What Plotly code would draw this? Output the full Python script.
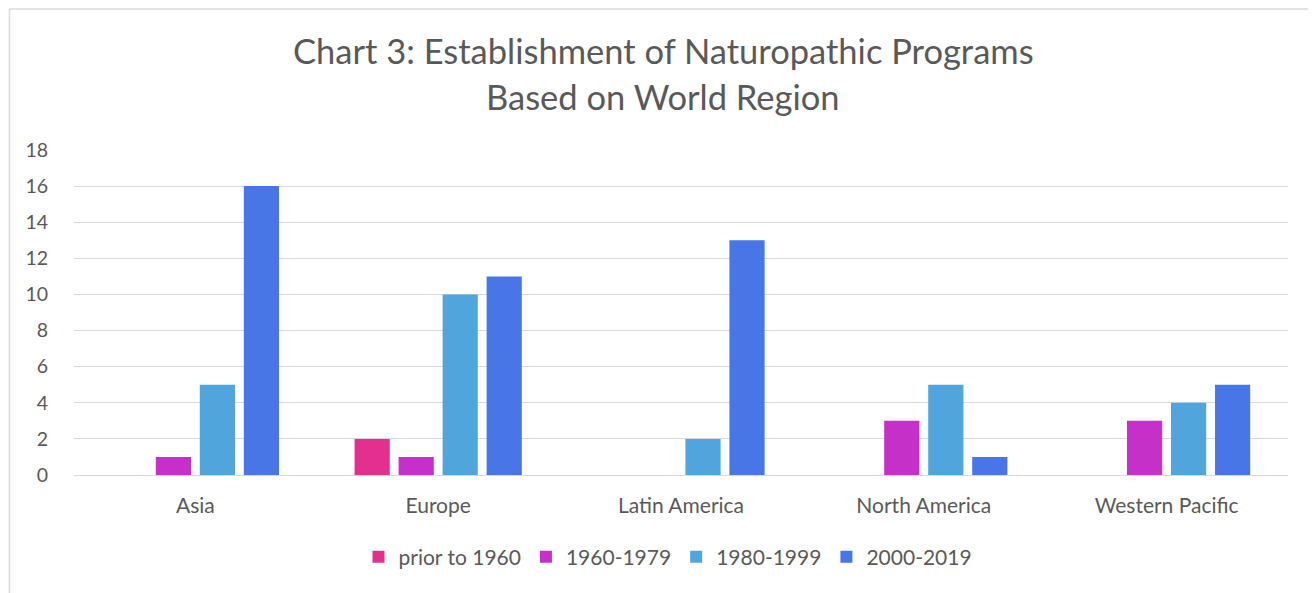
import plotly.graph_objects as go

regions = ["Asia", "Europe", "Latin America", "North America", "Western Pacific"]
series_names = ["prior to 1960", "1960-1979", "1980-1999", "2000-2019"]
prior_1960 = [0, 2, 0, 0, 0]
y1960_1979 = [1, 1, 0, 3, 3]
y1980_1999 = [5, 10, 2, 5, 4]
y2000_2019 = [16, 11, 13, 1, 5]
colors = ["#E3308F", "#C530C8", "#50A6DC", "#4876E6"]
title_lines = ["Chart 3: Establishment of Naturopathic Programs", "Based on World Region"]
y_ticks = list(range(0, 19, 2))

FONT = "Lato"
TXT = "#595959"
GRID = "#D9D9D9"

fig = go.Figure()
for name, vals, col in zip(series_names, [prior_1960, y1960_1979, y1980_1999, y2000_2019], colors):
    fig.add_trace(go.Bar(x=regions, y=vals, name=name, marker=dict(color=col, line=dict(width=0))))

OFF = 8  # page body margin
W, H = 1316 - OFF, 593 - OFF
# target page-pixel geometry of the plot area
PL, PR, PT, PB = 74, 1288, 150, 475
L, T = PL - OFF, PT - OFF
R = W - (PR - OFF)
B = H - (PB - OFF)
pw, ph = W - L - R, H - T - B

def px_x(p):
    return (p - OFF - L) / pw

def px_y(p):
    return (PB - p) / ph

fig.update_layout(
    width=W, height=H,
    margin=dict(l=L, r=R, t=T, b=B, autoexpand=False),
    paper_bgcolor="white", plot_bgcolor="white",
    barmode="group", bargap=0.275, bargroupgap=0.2,
    font=dict(family=FONT, color=TXT, size=19),
    showlegend=True,
    legend=dict(orientation="h", x=px_x(668), xanchor="center", y=px_y(557), yanchor="middle",
                font=dict(size=21, color=TXT, family=FONT), itemclick=False,
                bgcolor="rgba(0,0,0,0)"),
    xaxis=dict(showgrid=False, showline=False, zeroline=False, ticks="outside", ticklen=12,
               tickcolor="rgba(0,0,0,0)", tickfont=dict(size=21, color=TXT, family=FONT)),
    yaxis=dict(range=[0, 18], tickvals=y_ticks, showgrid=True, gridcolor=GRID, gridwidth=1.3,
               zeroline=True, zerolinecolor=GRID, zerolinewidth=1.3, showline=False,
               ticks="outside", ticklen=21, tickcolor="rgba(0,0,0,0)",
               tickfont=dict(size=19.5, color=TXT, family=FONT)),
    annotations=[
        dict(text=title_lines[0], xref="paper", yref="paper", x=px_x(663), y=px_y(50), xanchor="center",
             yanchor="middle", showarrow=False, font=dict(size=34.5, color=TXT, family=FONT)),
        dict(text=title_lines[1], xref="paper", yref="paper", x=px_x(663), y=px_y(97), xanchor="center",
             yanchor="middle", showarrow=False, font=dict(size=34.5, color=TXT, family=FONT)),
    ],
    shapes=[
        dict(type="line", xref="paper", yref="paper", x0=px_x(9.5), x1=px_x(1330), y0=px_y(9), y1=px_y(9),
             line=dict(color=GRID, width=1.5), layer="above"),
        dict(type="line", xref="paper", yref="paper", x0=px_x(9.5), x1=px_x(9.5), y0=px_y(9), y1=px_y(600),
             line=dict(color=GRID, width=1.5), layer="above"),
    ],
)

fig.write_html("out.html")
